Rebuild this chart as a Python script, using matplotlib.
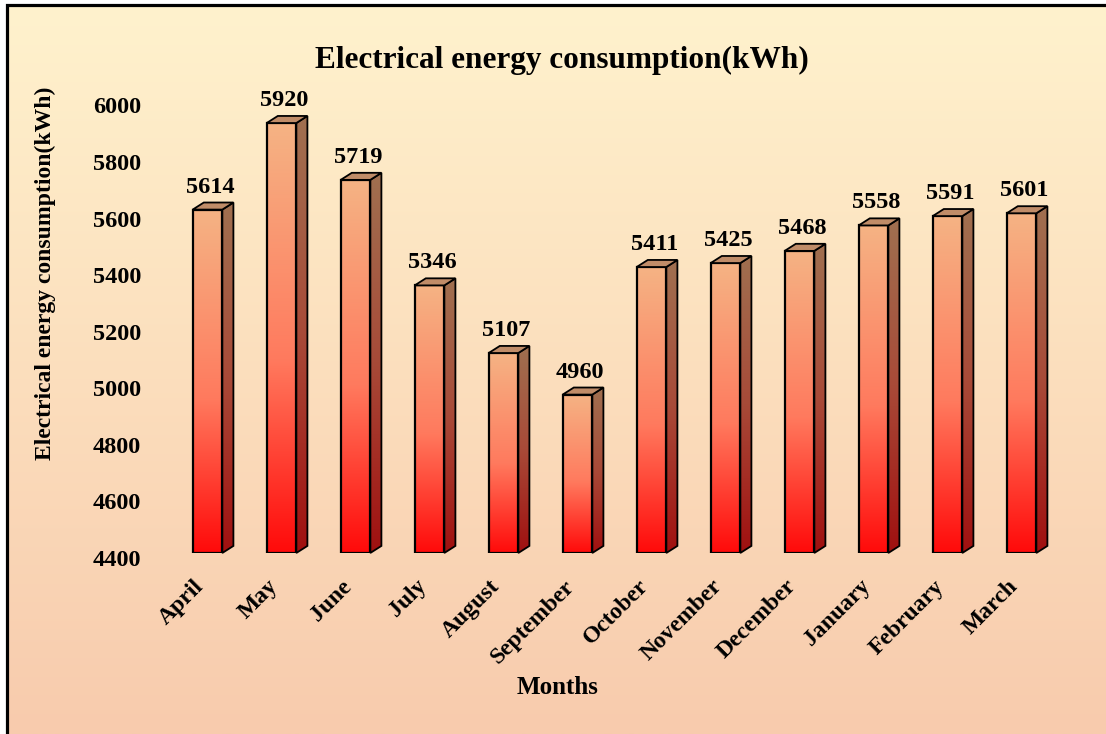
import numpy as np
import matplotlib
matplotlib.use("Agg")
import matplotlib.pyplot as plt
import matplotlib.transforms as mtrans
from matplotlib.patches import Polygon
from matplotlib.colors import LinearSegmentedColormap

months = ["April", "May", "June", "July", "August", "September", "October",
          "November", "December", "January", "February", "March"]
consumption = [5614, 5920, 5719, 5346, 5107, 4960, 5411, 5425, 5468, 5558, 5591, 5601]
y_ticks = [4400, 4600, 4800, 5000, 5200, 5400, 5600, 5800, 6000]
title = "Electrical energy consumption(kWh)"
ylabel = "Electrical energy consumption(kWh)"
xlabel = "Months"

W, H = 1106, 734
fig = plt.figure(figsize=(W / 100, H / 100), dpi=100)
fig.patch.set_facecolor("white")

# background gradient with frame (left and top edges visible)
bg = fig.add_axes([0, 0, 1, 1], zorder=0)
bg.axis("off")
top_c = np.array([255, 242, 205]) / 255
bot_c = np.array([248, 203, 173]) / 255
t = np.linspace(0, 1, 256)[:, None]
grad = (top_c[None, :] * (1 - t) + bot_c[None, :] * t)[:, None, :]
bg.imshow(grad, extent=[8, W, H, 6], aspect="auto", interpolation="bilinear")
bg.plot([6.5, 6.5, W], [H, 4.5, 4.5], color="black", lw=2.3, solid_joinstyle="miter")
bg.set_xlim(0, W)
bg.set_ylim(H, 0)

font = "Liberation Serif"
ax = fig.add_axes([170.5 / W, (H - 553) / H, 888 / W, (553 - 100.4) / H], zorder=2)
ax.patch.set_alpha(0)
for s in ax.spines.values():
    s.set_visible(False)

x = np.arange(len(months))
bw = 0.40
dx = 0.15
dy = 25

front_cmap = LinearSegmentedColormap.from_list(
    "front", [(0.0, "#FF0A0A"), (0.45, "#FF7A5E"), (1.0, "#F5B384")])
side_cmap = LinearSegmentedColormap.from_list(
    "side", [(0.0, "#A01010"), (0.5, "#A84A38"), (1.0, "#A07050")])
gv = np.linspace(0, 1, 256)[:, None]

bars = ax.bar(x, np.array(consumption) - 4400, bottom=4400, width=bw,
              facecolor="none", edgecolor="black", lw=1.6, zorder=4)
for xi, v, b in zip(x, consumption, bars):
    xl, xr = xi - bw / 2, xi + bw / 2
    im = ax.imshow(gv, cmap=front_cmap, extent=[xl, xr, 4400, v], origin="lower",
                   aspect="auto", zorder=3, vmin=0, vmax=1)
    im.set_clip_path(b)
    side = Polygon([(xr, 4400), (xr + dx, 4400 + dy), (xr + dx, v + dy), (xr, v)],
                   closed=True, fc="none", ec="black", lw=1.3, zorder=4, clip_on=False)
    ax.add_patch(side)
    im2 = ax.imshow(gv, cmap=side_cmap, extent=[xr, xr + dx, 4400, v + dy], origin="lower",
                    aspect="auto", zorder=3, vmin=0, vmax=1)
    im2.set_clip_path(side)
    top = Polygon([(xl, v), (xr, v), (xr + dx, v + dy), (xl + dx, v + dy)],
                  closed=True, fc="#C08C68", ec="black", lw=1.3, zorder=4, clip_on=False)
    ax.add_patch(top)
    ax.annotate(str(v), (xi + dx / 4, v + dy), xytext=(0, 3.5), textcoords="offset points",
                ha="center", va="bottom", fontsize=17.5, fontweight="bold",
                family=font, zorder=5)

ax.set_xlim(-0.5, len(months) - 0.5)
ax.set_ylim(4400, 6000)
ax.set_yticks(y_ticks)
ax.set_yticklabels([str(v) for v in y_ticks], fontsize=17.5, fontweight="bold", family=font)
ax.tick_params(axis="y", length=0, pad=21)
for lab in ax.get_yticklabels():
    lab.set_transform(lab.get_transform() + mtrans.ScaledTranslation(0, -5 / 100, fig.dpi_scale_trans))
ax.set_xticks(x)
ax.set_xticklabels(months, rotation=45, ha="right", rotation_mode="anchor",
                   fontsize=17, fontweight="bold", family=font)
ax.tick_params(axis="x", length=0, pad=15)
for lab in ax.get_xticklabels():
    lab.set_transform(lab.get_transform() + mtrans.ScaledTranslation(-14 / 100, -2 / 100, fig.dpi_scale_trans))

fig.text(562 / W, 1 - 60 / H, title, ha="center", va="center", fontsize=22.5,
         fontweight="bold", family=font)
fig.text(558 / W, 1 - 687 / H, xlabel, ha="center", va="center", fontsize=18,
         fontweight="bold", family=font)
fig.text(45 / W, 1 - 273 / H, ylabel, ha="center", va="center", rotation=90,
         fontsize=17, fontweight="bold", family=font)

fig.savefig("out.png", dpi=100)
